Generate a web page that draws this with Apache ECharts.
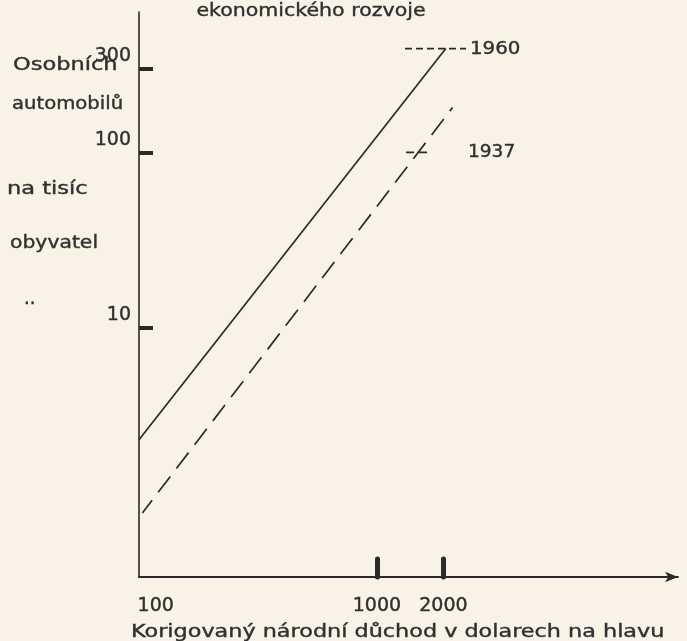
<!DOCTYPE html>
<html>
<head>
<meta charset="utf-8">
<script src="https://cdn.jsdelivr.net/npm/echarts@6/dist/echarts.min.js"></script>
<style>
html,body{margin:0;padding:0;background:#f8f3e6;}
#chart{width:687px;height:641px;}
</style>
</head>
<body>
<div id="chart"></div>
<script>
// Axis values
const xTickLabels = [100, 1000, 2000];
const xTickMarks = [1000, 2000];
const yTickValues = [10, 100, 300];

// Series (x: income in USD per head, y: cars per 1000 inhabitants)
const line1960 = [[84, 2.3], [2050, 390]];
const line1937 = [[87, 0.88], [2200, 180]];
const marker1960 = [[1340, 390], [2530, 390]];
const marker1937 = [[1355, 100], [1690, 100]];

const ink = '#2a2a2a';
const textInk = '#303030';
const fam = '"DejaVu Sans", sans-serif';

function txt(text, x, y, sx, align) {
  return {
    type: 'text', x: x, y: y, scaleX: sx, silent: true,
    style: {
      text: text, fill: textInk, fontSize: 18, fontFamily: fam,
      stroke: textInk, lineWidth: 0.4,
      align: align || 'left', textAlign: align || 'left',
      verticalAlign: 'middle', textVerticalAlign: 'middle'
    }
  };
}

const chart = echarts.init(document.getElementById('chart'), null, {renderer: 'canvas'});
chart.setOption({
  backgroundColor: '#f8f3e6',
  animation: false,
  grid: {left: 139, right: 9, top: 12, bottom: 64, containLabel: false},
  xAxis: {
    type: 'log', min: 84, max: 23000,
    axisLine: {show: true, lineStyle: {color: ink, width: 1.8}, symbol: ['none', 'arrow'], symbolSize: [8, 13]},
    axisTick: {show: true, inside: true, length: 18, customValues: xTickMarks, lineStyle: {color: ink, width: 5, cap: 'round'}},
    axisLabel: {show: true, customValues: xTickLabels, margin: 20, color: textInk, fontSize: 19, fontFamily: fam, textBorderColor: textInk, textBorderWidth: 0.4, formatter: function (v) { return String(v); }},
    splitLine: {show: false},
    minorTick: {show: false}
  },
  yAxis: {
    type: 'log', min: 0.38, max: 630,
    axisLine: {show: true, lineStyle: {color: ink, width: 1.6}},
    axisTick: {show: true, inside: true, length: 14, customValues: yTickValues, lineStyle: {color: ink, width: 4}},
    axisLabel: {show: true, customValues: yTickValues, margin: 8, color: textInk, fontSize: 19, fontFamily: fam, textBorderColor: textInk, textBorderWidth: 0.4, verticalAlign: 'bottom', padding: [0, 0, 3, 0], formatter: function (v) { return String(v); }},
    splitLine: {show: false},
    minorTick: {show: false}
  },
  series: [
    {type: 'line', data: line1960, symbol: 'none', lineStyle: {color: ink, width: 1.7}, silent: true},
    {type: 'line', data: line1937, symbol: 'none', lineStyle: {color: ink, width: 1.7, type: [20, 10], dashOffset: 4}, silent: true},
    {type: 'line', data: marker1960, symbol: 'none', lineStyle: {color: ink, width: 1.7, type: [7, 4]}, silent: true},
    {type: 'line', data: marker1937, symbol: 'none', lineStyle: {color: ink, width: 1.7, type: [8, 5]}, silent: true}
  ],
  graphic: [
    txt('ekonomického rozvoje', 311, 11, 1.14, 'center'),
    txt('Osobních', 13, 65, 1.25),
    txt('automobilů', 12, 104, 1.09),
    txt('na tisíc', 7, 189, 1.25),
    txt('obyvatel', 10, 243, 1.13),
    txt('..', 24, 299, 1.0),
    txt('1960', 470, 49, 1.1),
    txt('1937', 468, 152, 1.03),
    txt('Korigovaný národní důchod v dolarech na hlavu', 131, 632, 1.24)
  ]
});
</script>
</body>
</html>
